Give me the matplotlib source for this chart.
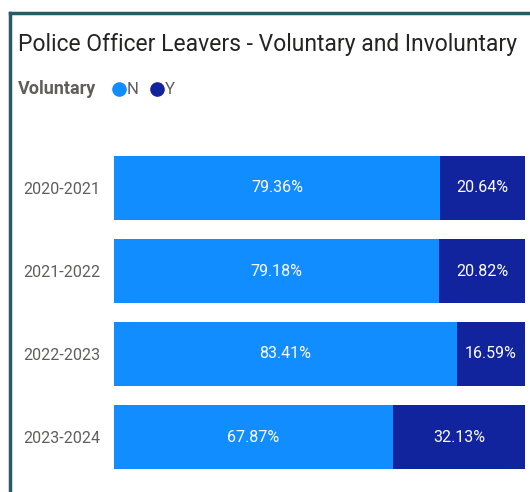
import matplotlib.pyplot as plt
from matplotlib.lines import Line2D

# Share of police officer leavers by year, split voluntary (Y) / involuntary (N)
years = ['2020-2021', '2021-2022', '2022-2023', '2023-2024']
pct_n = [79.36, 79.18, 83.41, 67.87]
pct_y = [20.64, 20.82, 16.59, 32.13]

col_n = '#118DFF'
col_y = '#12239E'
grey = '#605E5C'
font = ['Roboto', 'DejaVu Sans']

fig = plt.figure(figsize=(5.30, 4.92), dpi=100)
ax = fig.add_axes([114 / 530, 1 - 478.5 / 492, 411 / 530, 332 / 492])

pos = list(range(len(years)))
bars_n = ax.barh(pos, pct_n, height=0.77, color=col_n)
bars_y = ax.barh(pos, pct_y, left=pct_n, height=0.77, color=col_y)

for bars, vals, starts in [(bars_n, pct_n, [0] * 4), (bars_y, pct_y, pct_n)]:
    for b, v, s in zip(bars, vals, starts):
        ax.text(s + v / 2, b.get_y() + b.get_height() / 2, f'{v:.2f}%',
                ha='center', va='center', color='white', fontsize=11.5,
                family=font)

ax.set_xlim(0, 100)
ax.set_ylim(len(years) - 0.5, -0.5)
ax.set_yticks(pos)
ax.set_yticklabels(years, color=grey, fontsize=11.5, family=font)
ax.tick_params(axis='y', length=0, pad=10)
ax.set_xticks([])
for s in ax.spines.values():
    s.set_visible(False)

# Title and legend
fig.text(18 / 530, 1 - 44 / 492, 'Police Officer Leavers - Voluntary and Involuntary',
         fontsize=16.5, color='#252423', va='center', family=font)
fig.text(18 / 530, 1 - 89 / 492, 'Voluntary', fontsize=13, color=grey,
         fontweight='bold', va='center', family=font)
for x, c, lab in [(119, col_n, 'N'), (157, col_y, 'Y')]:
    fig.add_artist(Line2D([x / 530], [1 - 89 / 492], marker='o', markersize=9.5,
                          color=c, linestyle='none'))
    fig.text((x + 8) / 530, 1 - 89 / 492, lab, fontsize=12, color=grey,
             va='center', family=font)

# Card border on the top and left edges
edge = '#2C5966'
fig.add_artist(Line2D([10 / 530, 10 / 530], [0, 1 - 13 / 492], color=edge, lw=2.5))
fig.add_artist(Line2D([10 / 530, 1], [1 - 13 / 492, 1 - 13 / 492], color=edge, lw=2.5))

fig.savefig('out.png', dpi=100)
